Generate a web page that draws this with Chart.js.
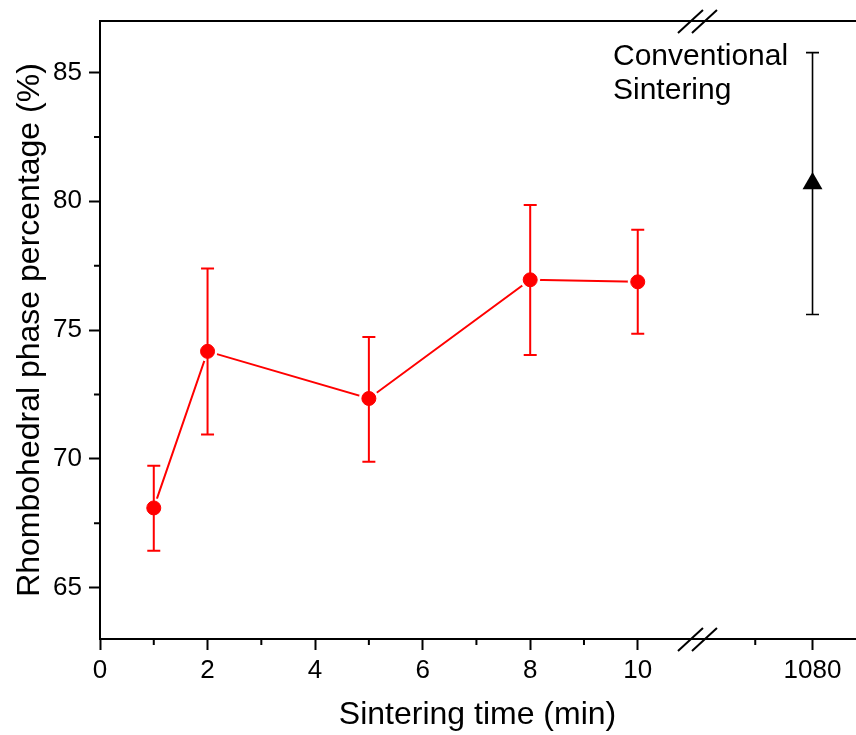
<!DOCTYPE html>
<html>
<head>
<meta charset="utf-8">
<script src="https://cdn.jsdelivr.net/npm/chart.js@4.4.1/dist/chart.umd.min.js"></script>
<style>
  html, body { margin: 0; padding: 0; background: #fff; }
  #wrap { width: 856px; height: 735px; }
</style>
</head>
<body>
<div id="wrap"><canvas id="c" width="856" height="735"></canvas></div>
<script>
// ---- data ----
const sinteringTimes = [1, 2, 5, 8, 10];                 // min
const rhomboPercent  = [68.09, 74.17, 72.34, 76.95, 76.87];
const rhomboErrHigh  = [69.73, 77.39, 74.73, 79.85, 78.89];
const rhomboErrLow   = [66.43, 70.94, 69.88, 74.03, 74.85];

const convTime     = 1080;                              // min
const convPercent  = 80.69;
const convErrHigh  = 85.77;
const convErrLow   = 75.60;

const xTickValues  = [0, 2, 4, 6, 8, 10, 1080];
const yTickValues  = [65, 70, 75, 80, 85];
const annotationLines = ['Conventional', 'Sintering'];

// broken x axis: 1080 is placed after the break
const BREAK_AT = 11.12;
const brokenPos = v => (v === 1080 ? 13.25 : v);
const brokenLabel = p => (p === 13.25 ? '1080' : String(p));

const FONT = "'Liberation Sans', Arial, sans-serif";

// stretch the plot area to the right edge of the canvas
const fullWidth = {
  id: 'fullWidth',
  afterLayout(chart) {
    const xs = chart.scales.x;
    const r = chart.width - 1;
    chart.chartArea.right = r;
    chart.chartArea.width = r - chart.chartArea.left;
    xs.right = r;
    xs.width = r - xs.left;
    xs.configure();
  }
};

const decor = {
  id: 'decor',
  afterDatasetDraw(chart, args) {
    if (args.index !== 0) return;
    const ctx = chart.ctx, xs = chart.scales.x, ys = chart.scales.y;
    const bar = (x, hi, lo, color, w, cap) => {
      const px = xs.getPixelForValue(x);
      const pt = ys.getPixelForValue(hi), pb = ys.getPixelForValue(lo);
      ctx.save();
      ctx.strokeStyle = color; ctx.lineWidth = w;
      ctx.beginPath();
      ctx.moveTo(px, pt); ctx.lineTo(px, pb);
      ctx.moveTo(px - cap, pt); ctx.lineTo(px + cap, pt);
      ctx.moveTo(px - cap, pb); ctx.lineTo(px + cap, pb);
      ctx.stroke();
      ctx.restore();
    };
    sinteringTimes.forEach((t, i) => bar(t, rhomboErrHigh[i], rhomboErrLow[i], '#ff0000', 2, 6.5));
    bar(brokenPos(convTime), convErrHigh, convErrLow, '#000', 1.6, 6.5);
  },
  afterDraw(chart) {
    const ctx = chart.ctx, xs = chart.scales.x, ys = chart.scales.y;
    const a = chart.chartArea;
    ctx.save();
    ctx.strokeStyle = '#000';
    ctx.lineWidth = 2;
    // top frame line
    ctx.beginPath();
    ctx.moveTo(a.left - 1, a.top); ctx.lineTo(a.right + 2, a.top);
    ctx.stroke();
    // minor ticks x
    const minorX = [1, 3, 5, 7, 9, (BREAK_AT + brokenPos(1080)) / 2];
    ctx.beginPath();
    minorX.forEach(v => {
      const px = xs.getPixelForValue(v);
      ctx.moveTo(px, a.bottom); ctx.lineTo(px, a.bottom + 6);
    });
    // minor ticks y
    [67.5, 72.5, 77.5, 82.5].forEach(v => {
      const py = ys.getPixelForValue(v);
      ctx.moveTo(a.left, py); ctx.lineTo(a.left - 6, py);
    });
    ctx.stroke();
    // break marks
    const bx = xs.getPixelForValue(BREAK_AT);
    ctx.lineWidth = 2;
    [a.top, a.bottom].forEach(y => {
      ctx.beginPath();
      ctx.moveTo(bx - 20, y + 12); ctx.lineTo(bx + 5, y - 11);
      ctx.moveTo(bx - 6, y + 12); ctx.lineTo(bx + 19, y - 11);
      ctx.stroke();
    });
    // annotation
    ctx.fillStyle = '#000';
    ctx.font = '30px ' + FONT;
    ctx.textAlign = 'left';
    ctx.textBaseline = 'alphabetic';
    ctx.fillText(annotationLines[0], 613, 65);
    ctx.fillText(annotationLines[1], 613, 99);
    ctx.restore();
  }
};

const xy = (xsArr, ysArr) => xsArr.map((x, i) => ({ x: x, y: ysArr[i] }));

new Chart(document.getElementById('c'), {
  type: 'scatter',
  data: {
    datasets: [
      { // connecting line, with white gaps around the markers
        type: 'line',
        data: xy(sinteringTimes, rhomboPercent),
        borderColor: '#ff0000',
        borderWidth: 2,
        pointRadius: 10,
        pointBackgroundColor: '#ffffff',
        pointBorderWidth: 0,
        pointBorderColor: '#ffffff',
        fill: false,
        tension: 0,
        order: 3
      },
      { // red markers
        data: xy(sinteringTimes, rhomboPercent),
        pointRadius: 7,
        pointBorderWidth: 1,
        pointBackgroundColor: '#ff0000',
        pointBorderColor: '#ff0000',
        showLine: false,
        order: 2
      },
      { // conventional sintering
        data: [{ x: brokenPos(convTime), y: convPercent }],
        pointStyle: 'triangle',
        pointRadius: 11.5,
        pointBorderWidth: 0,
        pointBackgroundColor: '#000',
        pointBorderColor: '#000',
        showLine: false,
        order: 1
      }
    ]
  },
  options: {
    responsive: false,
    animation: false,
    events: [],
    layout: { padding: { top: 21, right: 1, left: 0, bottom: 0 } },
    plugins: { legend: { display: false }, tooltip: { enabled: false } },
    scales: {
      x: {
        type: 'linear',
        min: 0, max: 14.04,
        afterBuildTicks: s => { s.ticks = xTickValues.map(v => ({ value: brokenPos(v) })); },
        afterFit: s => { s.height = 96; s.paddingLeft = 0; s.paddingRight = 0; },
        ticks: {
          callback: v => brokenLabel(v),
          color: '#000',
          font: { family: FONT, size: 26 },
          padding: 5,
          maxRotation: 0,
          autoSkip: false
        },
        grid: { drawOnChartArea: false, drawTicks: true, tickLength: 11, tickWidth: 2, tickColor: '#000' },
        border: { display: true, color: '#000', width: 2 },
        title: {
          display: true,
          text: 'Sintering time (min)',
          color: '#000',
          font: { family: FONT, size: 32 },
          padding: { top: 0, bottom: 1 }
        }
      },
      y: {
        type: 'linear',
        min: 63, max: 87,
        afterBuildTicks: s => { s.ticks = yTickValues.map(v => ({ value: v })); },
        afterFit: s => { s.width = 100; s.paddingTop = 0; s.paddingBottom = 0; },
        ticks: {
          color: '#000',
          font: { family: FONT, size: 26 },
          padding: 7
        },
        grid: { drawOnChartArea: false, drawTicks: true, tickLength: 11, tickWidth: 2, tickColor: '#000' },
        border: { display: true, color: '#000', width: 2 },
        title: {
          display: true,
          text: 'Rhombohedral phase percentage (%)',
          color: '#000',
          font: { family: FONT, size: 32 },
          padding: { top: 11, bottom: 0 }
        }
      }
    }
  },
  plugins: [fullWidth, decor]
});
</script>
</body>
</html>
